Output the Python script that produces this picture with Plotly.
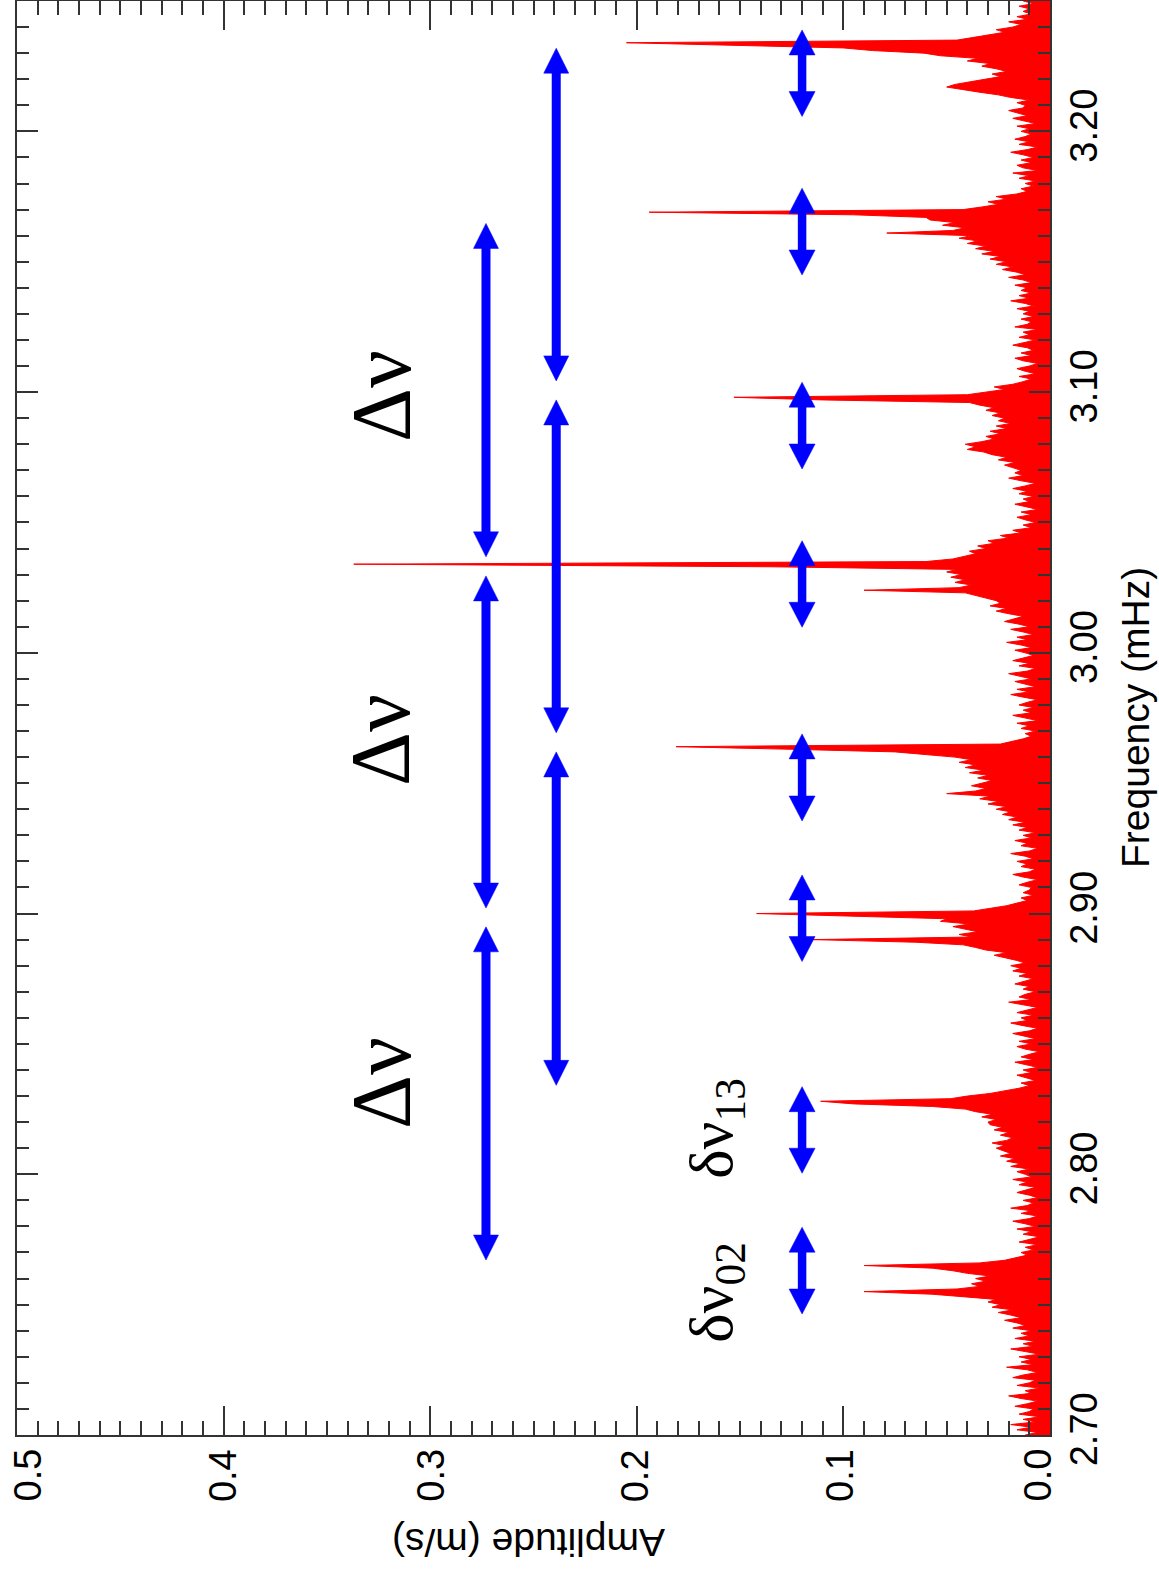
import numpy as np
import plotly.graph_objects as go

# Power spectrum amplitude (m/s), sampled every 0.001 mHz from 2.700 mHz
freq_start = 2.700
freq_step = 0.001
amplitude_ms = [
    0.012, 0.006, 0.016, 0.009, 0.019, 0.007, 0.013, 0.005, 0.015, 0.010,  # 2.70
    0.008, 0.017, 0.011, 0.006, 0.014, 0.020, 0.009, 0.012, 0.005, 0.016,  # 2.71
    0.010, 0.007, 0.018, 0.013, 0.006, 0.011, 0.021, 0.008, 0.014, 0.009,  # 2.72
    0.015, 0.005, 0.012, 0.019, 0.008, 0.013, 0.007, 0.017, 0.010, 0.014,  # 2.73
    0.009, 0.018, 0.012, 0.016, 0.022, 0.014, 0.019, 0.025, 0.018, 0.028,  # 2.74
    0.024, 0.030, 0.026, 0.041, 0.057, 0.090, 0.045, 0.034, 0.038, 0.031,  # 2.75
    0.036, 0.029, 0.040, 0.047, 0.057, 0.090, 0.034, 0.022, 0.017, 0.011,  # 2.76
    0.014, 0.008, 0.012, 0.006, 0.015, 0.010, 0.005, 0.013, 0.009, 0.016,  # 2.77
    0.007, 0.012, 0.018, 0.010, 0.006, 0.014, 0.009, 0.019, 0.011, 0.008,  # 2.78
    0.013, 0.006, 0.010, 0.016, 0.012, 0.007, 0.015, 0.011, 0.018, 0.009,  # 2.79
    0.012, 0.016, 0.010, 0.019, 0.014, 0.021, 0.017, 0.024, 0.019, 0.023,  # 2.80
    0.026, 0.022, 0.028, 0.021, 0.018, 0.024, 0.020, 0.027, 0.023, 0.029,  # 2.81
    0.030, 0.026, 0.033, 0.028, 0.036, 0.041, 0.057, 0.095, 0.111, 0.048,  # 2.82
    0.040, 0.029, 0.021, 0.015, 0.010, 0.014, 0.007, 0.012, 0.016, 0.009,  # 2.83
    0.013, 0.006, 0.011, 0.017, 0.008, 0.014, 0.010, 0.005, 0.012, 0.016,  # 2.84
    0.009, 0.015, 0.007, 0.012, 0.018, 0.010, 0.006, 0.013, 0.019, 0.011,  # 2.85
    0.014, 0.008, 0.016, 0.011, 0.006, 0.013, 0.020, 0.009, 0.015, 0.012,  # 2.86
    0.007, 0.013, 0.010, 0.017, 0.012, 0.008, 0.015, 0.011, 0.018, 0.014,  # 2.87
    0.019, 0.012, 0.016, 0.022, 0.027, 0.021, 0.031, 0.036, 0.042, 0.065,  # 2.88
    0.115, 0.038, 0.044, 0.035, 0.041, 0.047, 0.039, 0.053, 0.050, 0.100,  # 2.89
    0.142, 0.037, 0.028, 0.021, 0.016, 0.011, 0.014, 0.008, 0.013, 0.010,  # 2.90
    0.009, 0.015, 0.011, 0.006, 0.013, 0.018, 0.010, 0.007, 0.014, 0.011,  # 2.91
    0.016, 0.008, 0.012, 0.019, 0.010, 0.006, 0.014, 0.011, 0.017, 0.009,  # 2.92
    0.013, 0.007, 0.015, 0.011, 0.018, 0.012, 0.020, 0.016, 0.023, 0.019,  # 2.93
    0.026, 0.021, 0.030, 0.025, 0.034, 0.029, 0.050, 0.036, 0.031, 0.038,  # 2.94
    0.033, 0.028, 0.035, 0.030, 0.039, 0.032, 0.041, 0.036, 0.044, 0.038,  # 2.95
    0.046, 0.060, 0.075, 0.125, 0.181, 0.024, 0.018, 0.013, 0.009, 0.012,  # 2.96
    0.007, 0.014, 0.010, 0.016, 0.006, 0.012, 0.018, 0.009, 0.013, 0.008,  # 2.97
    0.015, 0.011, 0.006, 0.013, 0.019, 0.010, 0.016, 0.007, 0.012, 0.017,  # 2.98
    0.009, 0.014, 0.020, 0.011, 0.007, 0.015, 0.010, 0.018, 0.013, 0.008,  # 2.99
    0.012, 0.017, 0.009, 0.014, 0.021, 0.011, 0.016, 0.008, 0.013, 0.019,  # 3.00
    0.010, 0.015, 0.022, 0.018, 0.013, 0.020, 0.026, 0.021, 0.029, 0.024,  # 3.01
    0.026, 0.031, 0.036, 0.041, 0.090, 0.044, 0.038, 0.046, 0.041, 0.048,  # 3.02
    0.043, 0.050, 0.045, 0.135, 0.337, 0.060, 0.047, 0.041, 0.036, 0.039,  # 3.03
    0.031, 0.035, 0.027, 0.030, 0.020, 0.024, 0.014, 0.018, 0.009, 0.013,  # 3.04
    0.007, 0.012, 0.016, 0.009, 0.014, 0.006, 0.011, 0.017, 0.010, 0.013,  # 3.05
    0.008, 0.015, 0.011, 0.018, 0.012, 0.007, 0.014, 0.020, 0.013, 0.017,  # 3.06
    0.014, 0.018, 0.022, 0.017, 0.025, 0.021, 0.028, 0.032, 0.040, 0.036,  # 3.07
    0.041, 0.033, 0.027, 0.031, 0.024, 0.029, 0.021, 0.026, 0.019, 0.025,  # 3.08
    0.022, 0.028, 0.024, 0.031, 0.027, 0.034, 0.039, 0.110, 0.153, 0.040,  # 3.09
    0.030, 0.022, 0.027, 0.018, 0.013, 0.009, 0.015, 0.007, 0.012, 0.016,  # 3.10
    0.010, 0.006, 0.013, 0.017, 0.009, 0.014, 0.008, 0.011, 0.018, 0.012,  # 3.11
    0.007, 0.015, 0.010, 0.013, 0.006, 0.017, 0.011, 0.009, 0.014, 0.008,  # 3.12
    0.013, 0.010, 0.016, 0.008, 0.012, 0.019, 0.010, 0.015, 0.009, 0.014,  # 3.13
    0.011, 0.017, 0.009, 0.013, 0.020, 0.012, 0.016, 0.023, 0.018, 0.026,  # 3.14
    0.021, 0.029, 0.024, 0.033, 0.027, 0.036, 0.031, 0.040, 0.035, 0.044,  # 3.15
    0.038, 0.079, 0.047, 0.041, 0.052, 0.046, 0.058, 0.060, 0.095, 0.194,  # 3.16
    0.042, 0.033, 0.025, 0.030, 0.021, 0.026, 0.016, 0.011, 0.014, 0.008,  # 3.17
    0.012, 0.007, 0.015, 0.010, 0.018, 0.006, 0.013, 0.016, 0.009, 0.014,  # 3.18
    0.008, 0.013, 0.019, 0.011, 0.006, 0.015, 0.010, 0.017, 0.012, 0.009,  # 3.19
    0.014, 0.010, 0.016, 0.007, 0.012, 0.018, 0.011, 0.015, 0.020, 0.013,  # 3.20
    0.012, 0.016, 0.010, 0.019, 0.025, 0.034, 0.041, 0.050, 0.046, 0.038,  # 3.21
    0.031, 0.024, 0.028, 0.021, 0.026, 0.033, 0.029, 0.040, 0.035, 0.053,  # 3.22
    0.061, 0.086, 0.100, 0.148, 0.205, 0.045, 0.037, 0.030, 0.022, 0.026,  # 3.23
    0.018, 0.014, 0.020, 0.011, 0.016, 0.009, 0.013, 0.010, 0.015, 0.008,  # 3.24
    0.013,                                                                  # 3.25
]
frequency_mhz = np.round(freq_start + freq_step * np.arange(len(amplitude_ms)), 3)

# Large separation arrows: (low, high) frequency in mHz, two staggered rows
large_sep_amp = [0.273, 0.239]
large_sep_spans = [
    [(2.7671, 2.8949), (2.9021, 3.0295), (3.0368, 3.1647)],
    [(2.8341, 2.9620), (2.9693, 3.0970), (3.1043, 3.2319)],
]
# Small separation arrows
small_sep_amp = 0.120
small_sep_spans = [(2.7464, 2.7797), (2.8004, 2.8336), (2.8816, 2.9148),
                   (2.9355, 2.9689), (3.0098, 3.0430), (3.0705, 3.1038),
                   (3.1449, 3.1782), (3.2057, 3.2389)]

# Text labels: (amplitude, frequency, text)
large_labels = [(0.3238, 3.0985), (0.3238, 2.9666), (0.3238, 2.8350)]
small_labels = [(0.162, 2.8176, "δν<sub>13</sub>"), (0.162, 2.7547, "δν<sub>02</sub>")]

amp_ticks = [0.0, 0.1, 0.2, 0.3, 0.4, 0.5]
amp_ticktext = ["0.0", "0.1", "0.2", "0.3", "0.4", "0.5"]
amp_label_shift_px = [-13, -4, -2, 0, -1, 10]   # keeps edge labels inside the frame
freq_ticks = [2.70, 2.80, 2.90, 3.00, 3.10, 3.20]
freq_ticktext = ["2.70", "2.80", "2.90", "3.00", "3.10", "3.20"]
amp_range = [0.5, 0.0]
freq_range = [2.70, 3.25]

# Page geometry
W, H = 1159, 1579
ML, MR, MT, MB = 17, 109, 1, 144
PW, PH = W - ML - MR, H - MT - MB
amp_per_px = abs(amp_range[0] - amp_range[1]) / PW
freq_per_px = (freq_range[1] - freq_range[0]) / PH

BLUE = "#0000ff"
RED = "#ff0000"
AXIS = "#333333"
SANS = "Liberation Sans, Arial, sans-serif"
SERIF = "Liberation Serif, Times New Roman, serif"

fig = go.Figure()
fig.add_trace(go.Scatter(
    x=amplitude_ms, y=frequency_mhz, mode="lines",
    line=dict(color=RED, width=1.0), fill="tozerox", fillcolor=RED,
    hoverinfo="skip", showlegend=False,
))


def add_double_arrow(a, f_lo, f_hi, shaft_px, head_w_px, head_l_px):
    hl = head_l_px * freq_per_px
    hw = 0.5 * head_w_px * amp_per_px
    fig.add_shape(type="line", xref="x", yref="y", x0=a, x1=a,
                  y0=f_lo + 0.8 * hl, y1=f_hi - 0.8 * hl,
                  line=dict(color=BLUE, width=shaft_px))
    for tip, base in ((f_lo, f_lo + hl), (f_hi, f_hi - hl)):
        path = f"M {a - hw},{base} L {a + hw},{base} L {a},{tip} Z"
        fig.add_shape(type="path", xref="x", yref="y", path=path,
                      fillcolor=BLUE, line=dict(color=BLUE, width=0.5))


for a, spans in zip(large_sep_amp, large_sep_spans):
    for lo, hi in spans:
        add_double_arrow(a, lo, hi, 9, 25, 25)
for lo, hi in small_sep_spans:
    add_double_arrow(small_sep_amp, lo, hi, 8.5, 26, 25)

for a, f in large_labels:
    fig.add_annotation(x=a, y=f, xref="x", yref="y", text="Δν", showarrow=False,
                       textangle=-90, xanchor="center", yanchor="middle",
                       font=dict(family=SERIF, size=84, color="black"))
for a, f, t in small_labels:
    fig.add_annotation(x=a, y=f, xref="x", yref="y", text=t, showarrow=False,
                       textangle=-90, xanchor="center", yanchor="middle",
                       font=dict(family=SERIF, size=62, color="black"))

# Amplitude tick labels, turned to read upward like the frequency labels
for v, t, s in zip(amp_ticks, amp_ticktext, amp_label_shift_px):
    fig.add_annotation(x=v, y=-13 / PH, xref="x", yref="paper", text=t,
                       showarrow=False, textangle=-90, xanchor="center",
                       yanchor="top", xshift=s, borderpad=0,
                       font=dict(family=SANS, size=38, color="black"))

# Axis titles
fig.add_annotation(x=(1135 - ML) / PW, y=0.5, xref="paper", yref="paper",
                   text="Frequency (mHz)", showarrow=False, textangle=-90,
                   xanchor="center", yanchor="middle",
                   font=dict(family=SANS, size=39, color="black"))
fig.add_annotation(x=(529 - ML) / PW, y=(MT + PH - 1543) / PH, xref="paper", yref="paper",
                   text="Amplitude (m/s)", showarrow=False, textangle=180,
                   xanchor="center", yanchor="middle",
                   font=dict(family=SANS, size=39, color="black"))

fig.update_xaxes(
    range=amp_range, tickvals=amp_ticks, showticklabels=False,
    ticks="inside", ticklen=29, tickwidth=1.5, tickcolor=AXIS,
    minor=dict(dtick=0.01, ticks="inside", ticklen=14, tickwidth=1.5, tickcolor=AXIS),
    showline=True, linecolor=AXIS, linewidth=1.5, mirror="ticks",
    showgrid=False, zeroline=False,
)
fig.update_yaxes(
    range=freq_range, side="right", tickvals=freq_ticks, ticktext=freq_ticktext,
    tickangle=-90, ticks="inside", ticklen=21, tickwidth=1.5, tickcolor=AXIS,
    minor=dict(dtick=0.01, ticks="inside", ticklen=12, tickwidth=1.5, tickcolor=AXIS),
    showline=True, linecolor=AXIS, linewidth=1.5, mirror="ticks",
    showgrid=False, zeroline=False, ticklabeloverflow="allow",
    tickfont=dict(family=SANS, size=38, color="black"),
)
fig.update_layout(
    width=W, height=H, margin=dict(l=ML, r=MR, t=MT, b=MB, autoexpand=False),
    paper_bgcolor="white", plot_bgcolor="white", showlegend=False,
)

fig.write_html("out.html")
